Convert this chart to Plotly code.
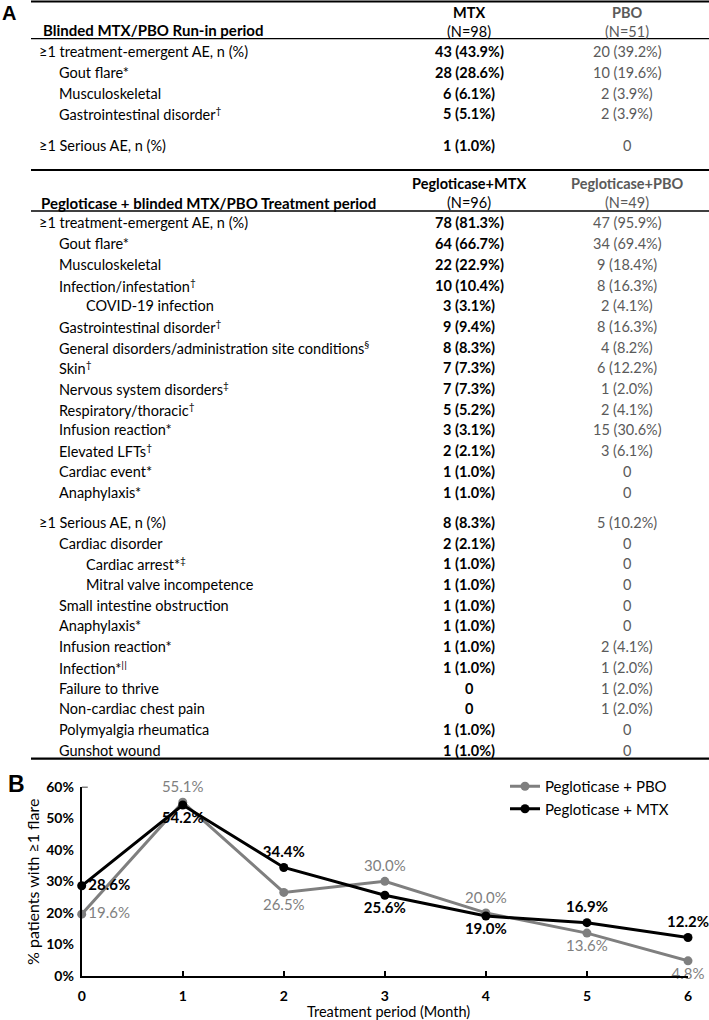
import plotly.graph_objects as go

# ---------------- DATA ----------------
# Panel A, run-in period
runin_header = "Blinded MTX/PBO Run-in period"
runin_cols = ["MTX", "PBO"]
runin_n = ["(N=98)", "(N=51)"]
runin_ae_labels = ["≥1 treatment-emergent AE, n (%)", "Gout flare*", "Musculoskeletal",
                   "Gastrointestinal disorder<sup>†</sup>"]
runin_ae_level = [0, 1, 1, 1]
runin_ae_mtx = ["43 (43.9%)", "28 (28.6%)", "6 (6.1%)", "5 (5.1%)"]
runin_ae_pbo = ["20 (39.2%)", "10 (19.6%)", "2 (3.9%)", "2 (3.9%)"]
runin_sae_labels = ["≥1 Serious AE, n (%)"]
runin_sae_level = [0]
runin_sae_mtx = ["1 (1.0%)"]
runin_sae_pbo = ["0"]

# Panel A, treatment period
treat_header = "Pegloticase + blinded MTX/PBO Treatment period"
treat_cols = ["Pegloticase+MTX", "Pegloticase+PBO"]
treat_n = ["(N=96)", "(N=49)"]
treat_ae_labels = ["≥1 treatment-emergent AE, n (%)", "Gout flare*", "Musculoskeletal",
                   "Infection/infestation<sup>†</sup>", "COVID-19 infection",
                   "Gastrointestinal disorder<sup>†</sup>",
                   "General disorders/administration site conditions<sup>§</sup>",
                   "Skin<sup>†</sup>", "Nervous system disorders<sup>‡</sup>",
                   "Respiratory/thoracic<sup>†</sup>", "Infusion reaction*",
                   "Elevated LFTs<sup>†</sup>", "Cardiac event*", "Anaphylaxis*"]
treat_ae_level = [0, 1, 1, 1, 2, 1, 1, 1, 1, 1, 1, 1, 1, 1]
treat_ae_mtx = ["78 (81.3%)", "64 (66.7%)", "22 (22.9%)", "10 (10.4%)", "3 (3.1%)",
                "9 (9.4%)", "8 (8.3%)", "7 (7.3%)", "7 (7.3%)", "5 (5.2%)", "3 (3.1%)",
                "2 (2.1%)", "1 (1.0%)", "1 (1.0%)"]
treat_ae_pbo = ["47 (95.9%)", "34 (69.4%)", "9 (18.4%)", "8 (16.3%)", "2 (4.1%)",
                "8 (16.3%)", "4 (8.2%)", "6 (12.2%)", "1 (2.0%)", "2 (4.1%)", "15 (30.6%)",
                "3 (6.1%)", "0", "0"]
treat_sae_labels = ["≥1 Serious AE, n (%)", "Cardiac disorder", "Cardiac arrest*<sup>‡</sup>",
                    "Mitral valve incompetence", "Small intestine obstruction", "Anaphylaxis*",
                    "Infusion reaction*", "Infection*<sup>ǁ</sup>", "Failure to thrive",
                    "Non-cardiac chest pain", "Polymyalgia rheumatica", "Gunshot wound"]
treat_sae_level = [0, 1, 2, 2, 1, 1, 1, 1, 1, 1, 1, 1]
treat_sae_mtx = ["8 (8.3%)", "2 (2.1%)", "1 (1.0%)", "1 (1.0%)", "1 (1.0%)", "1 (1.0%)",
                 "1 (1.0%)", "1 (1.0%)", "0", "0", "1 (1.0%)", "1 (1.0%)"]
treat_sae_pbo = ["5 (10.2%)", "0", "0", "0", "0", "0", "2 (4.1%)", "1 (2.0%)",
                 "1 (2.0%)", "1 (2.0%)", "0", "0"]

# Panel B
months = [0, 1, 2, 3, 4, 5, 6]
flare_pbo = [19.6, 55.1, 26.5, 30.0, 20.0, 13.6, 4.8]
flare_mtx = [28.6, 54.2, 34.4, 25.6, 19.0, 16.9, 12.2]
name_pbo = "Pegloticase + PBO"
name_mtx = "Pegloticase + MTX"
x_title = "Treatment period (Month)"
y_title = "% patients with ≥1 flare"

# ---------------- LAYOUT HELPERS ----------------
W, H = 709, 1020
FONT = "Lato"
GRAY = "#5a5a5a"
LINEGRAY = "#7f7f7f"


def px(x):
    return x / W


def py(y):
    return 1 - y / H


annotations = []
shapes = []


def text(x, y, s, size=14.5, color="black", bold=False, anchor="left", family=FONT, angle=0):
    annotations.append(dict(
        x=px(x), y=py(y), xref="paper", yref="paper", text=s, showarrow=False,
        xanchor=anchor, yanchor="middle", textangle=angle,
        font=dict(family=family, size=size, color=color, weight="bold" if bold else "normal"),
    ))


def hline(y, w, color="black"):
    shapes.append(dict(type="line", xref="paper", yref="paper", x0=px(31), x1=1,
                       y0=py(y), y1=py(y), layer="above",
                       line=dict(color=color, width=w)))


COL_MTX, COL_PBO = 469, 627
INDENT = [37, 57, 84]
STEP = 20.7


def rows(y0, labels, levels, mtx, pbo):
    for i, (lab, lev, a, b) in enumerate(zip(labels, levels, mtx, pbo)):
        y = y0 + i * STEP
        text(INDENT[lev], y, lab)
        text(COL_MTX, y, a, bold=True, anchor="center")
        text(COL_PBO, y, b, color=GRAY, anchor="center")
    return y0 + (len(labels) - 1) * STEP


# Panel label A
text(0, 13, "A", size=20, bold=True, family="Liberation Sans")

# Run-in section
hline(1.5, 2)
text(41, 29.5, runin_header, bold=True, size=15)
text(COL_MTX, 12.7, runin_cols[0], bold=True, anchor="center")
text(COL_MTX, 31.5, runin_n[0], anchor="center")
text(COL_PBO, 12.7, runin_cols[1], bold=True, color=GRAY, anchor="center")
text(COL_PBO, 31.5, runin_n[1], color=GRAY, anchor="center")
hline(38.7, 1.3)
last = rows(51.7, runin_ae_labels, runin_ae_level, runin_ae_mtx, runin_ae_pbo)
rows(last + 1.52 * STEP, runin_sae_labels, runin_sae_level, runin_sae_mtx, runin_sae_pbo)

# Treatment section
hline(170, 2)
text(39, 203, treat_header, bold=True, size=15)
text(COL_MTX, 183.5, treat_cols[0], bold=True, anchor="center")
text(COL_MTX, 202.7, treat_n[0], anchor="center")
text(COL_PBO, 183.5, treat_cols[1], bold=True, color=GRAY, anchor="center")
text(COL_PBO, 202.7, treat_n[1], color=GRAY, anchor="center")
hline(211, 1.3)
last = rows(222.9, treat_ae_labels, treat_ae_level, treat_ae_mtx, treat_ae_pbo)
last = rows(last + 1.47 * STEP, treat_sae_labels, treat_sae_level, treat_sae_mtx, treat_sae_pbo)
hline(last + 8.5, 2.2)

# Panel label B
text(6, 784, "B", size=23, bold=True, family="Liberation Sans")

# Axis titles of panel B
text(388, 1011, x_title, size=14.5, anchor="center")
text(32, 882, y_title, size=16, anchor="center", angle=-90)

# ---------------- PANEL B ----------------
fig = go.Figure()
fig.add_trace(go.Scatter(
    x=months, y=flare_pbo, name=name_pbo, mode="lines+markers+text",
    line=dict(color=LINEGRAY, width=3), marker=dict(color=LINEGRAY, size=9),
    text=[f"{v:.1f}%" for v in flare_pbo],
    textposition=["middle right", "top center", "bottom center", "top center",
                  "top center", "bottom center", "bottom center"],
    textfont=dict(family=FONT, size=15, color=LINEGRAY),
    cliponaxis=False,
))
fig.add_trace(go.Scatter(
    x=months, y=flare_mtx, name=name_mtx, mode="lines+markers+text",
    line=dict(color="black", width=3), marker=dict(color="black", size=9),
    text=[f"{v:.1f}%" for v in flare_mtx],
    textposition=["middle right", "bottom center", "top center", "bottom center",
                  "bottom center", "top center", "top center"],
    textfont=dict(family=FONT, size=15, color="black", weight="bold"),
    cliponaxis=False,
))

# small tick at top of the y axis
shapes.append(dict(type="line", xref="x", yref="y", x0=0, x1=0.06, y0=60, y1=60,
                   line=dict(color="black", width=1.5)))

fig.update_layout(
    width=W, height=H, margin=dict(l=0, r=0, t=0, b=0, autoexpand=False),
    paper_bgcolor="white", plot_bgcolor="white",
    font=dict(family=FONT, color="black"),
    annotations=annotations, shapes=shapes,
    showlegend=True,
    legend=dict(x=px(505), y=py(770), xanchor="left", yanchor="top",
                font=dict(family=FONT, size=15, color="black"),
                bgcolor="rgba(0,0,0,0)", tracegroupgap=0),
    xaxis=dict(domain=[px(81.7), px(688)], range=[0, 6], tickvals=months,
               showline=True, linecolor="black", linewidth=2, showgrid=False, zeroline=False,
               ticks="inside", ticklen=5, tickwidth=1.5, tickcolor="black",
               tickfont=dict(family=FONT, size=14, weight="bold"),
               ticklabelstandoff=6, automargin=False),
    yaxis=dict(domain=[py(976), py(786.7)], range=[0, 60], dtick=10, ticksuffix="%",
               showline=True, linecolor="black", linewidth=2, showgrid=False, zeroline=False,
               ticks="", tickfont=dict(family=FONT, size=14, weight="bold"),
               ticklabelstandoff=3, automargin=False),
)

fig.write_html("out.html", config={"displayModeBar": False},
               post_script="document.body.style.margin='0';document.body.style.overflow='hidden';")
